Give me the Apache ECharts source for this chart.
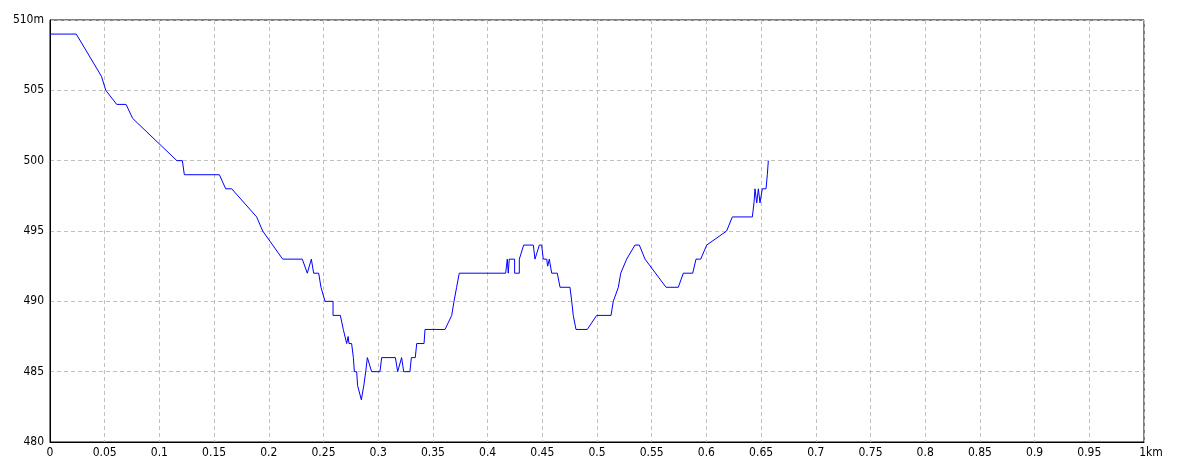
<!DOCTYPE html>
<html>
<head>
<meta charset="utf-8">
<script src="https://cdn.jsdelivr.net/npm/echarts@6/dist/echarts.min.js"></script>
<style>
html,body{margin:0;padding:0;background:#fff;}
#chart{width:1184px;height:473px;}
</style>
</head>
<body>
<div id="chart"></div>
<script>
// distance (km)
const distanceKm = [0,0.024,0.047,0.051,0.061,0.0695,0.0756,0.116,0.121,0.1228,0.1548,0.1606,0.1661,0.1889,0.1944,0.2127,0.2306,0.2352,0.2389,0.241,0.2456,0.2477,0.2514,0.2587,0.2587,0.2654,0.2681,0.2712,0.2725,0.2733,0.2757,0.2773,0.2782,0.2803,0.2812,0.2846,0.2855,0.2868,0.2886,0.2901,0.2916,0.294,0.3016,0.3032,0.3157,0.3178,0.3214,0.3233,0.329,0.3303,0.3339,0.3352,0.3419,0.3428,0.3611,0.3672,0.3693,0.3717,0.3741,0.4165,0.418,0.4189,0.4198,0.4247,0.4247,0.429,0.429,0.433,0.4418,0.4433,0.4473,0.4494,0.4509,0.454,0.4549,0.4564,0.4586,0.4637,0.4662,0.4753,0.4769,0.4783,0.4808,0.4911,0.4997,0.5128,0.5149,0.5195,0.5217,0.5271,0.5347,0.5387,0.5439,0.5631,0.5743,0.5789,0.5875,0.5905,0.5948,0.6003,0.6185,0.6237,0.642,0.6435,0.6444,0.646,0.6475,0.649,0.6505,0.6511,0.6545,0.6557,0.6566];
// elevation (m)
const elevationM = [509,509,506,505,504,504,503,500,500,499,499,498,498,496,495,493,493,492,493,492,492,491,490,490,489,489,488,487,487.5,487,487,486,485,485,484,483,483,484,485,486,486,485,485,486,486,485,486,485,485,486,486,487,487,488,488,489,490,491,492,492,493,492,493,493,492,492,493,494,494,493,494,494,493,493,492.5,493,492,492,491,491,490,489,488,488,489,489,490,491,492,493,494,494,493,491,491,492,492,493,493,494,495,496,496,497,498,497,498,497,497,498,498,499,500];
const xMin = 0, xMax = 1, xStep = 0.05, xUnit = 'km';
const yMin = 480, yMax = 510, yStep = 5, yUnit = 'm';

const points = distanceKm.map((d, i) => [d, elevationM[i]]);
const font = "'Liberation Sans Narrow', 'DejaVu Sans Condensed', 'DejaVu Sans', sans-serif";

const chart = echarts.init(document.getElementById('chart'), null, {renderer: 'canvas'});
chart.setOption({
  animation: false,
  backgroundColor: '#ffffff',
  grid: {left: 50, right: 40, top: 20, bottom: 31, show: true, borderColor: '#000', borderWidth: 1, backgroundColor: 'transparent'},
  xAxis: {
    type: 'value', min: xMin, max: xMax, interval: xStep,
    axisLine: {show: true, lineStyle: {color: '#000', width: 1}},
    axisTick: {show: false},
    splitLine: {show: true, lineStyle: {color: '#c0c0c0', type: [4, 3], width: 1}},
    axisLabel: {
      color: '#000', fontSize: 12, fontFamily: font, margin: 5,
      formatter: v => Math.abs(v - xMax) < 1e-9 ? '{u|' + (+v.toFixed(2)) + xUnit + '}' : String(+v.toFixed(2)),
      rich: {u: {color: '#000', fontSize: 12, fontFamily: font, padding: [0, 0, 0, 14]}}
    }
  },
  yAxis: {
    type: 'value', min: yMin, max: yMax, interval: yStep,
    axisLine: {show: true, lineStyle: {color: '#000', width: 1}},
    axisTick: {show: false},
    splitLine: {show: true, lineStyle: {color: '#c0c0c0', type: [4, 3], width: 1}},
    axisLabel: {
      color: '#000', fontSize: 12, fontFamily: font, margin: 6,
      formatter: v => v === yMax ? v + yUnit : String(v)
    }
  },
  series: [{
    type: 'line', data: points, showSymbol: false, symbol: 'none',
    lineStyle: {color: '#0000ff', width: 1}, smooth: false
  }]
});
</script>
</body>
</html>
